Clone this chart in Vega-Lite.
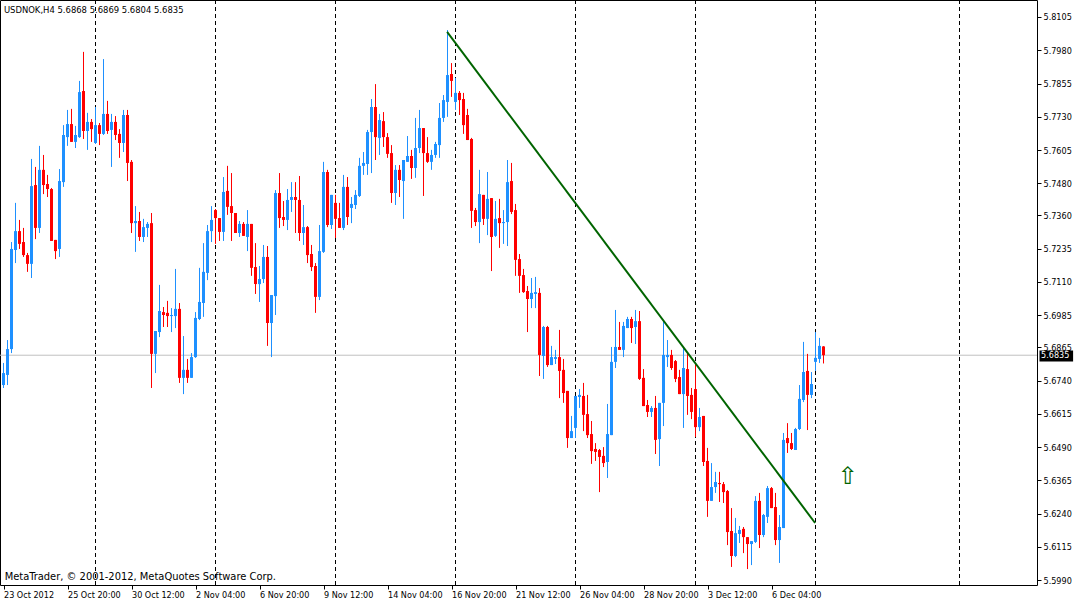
{
  "$schema": "https://vega.github.io/schema/vega-lite/v6.json",
  "width": 1037,
  "height": 585,
  "autosize": "none",
  "padding": {"left": 0, "top": 0, "right": 38, "bottom": 17},
  "background": "#ffffff",
  "config": {
    "view": {"stroke": "#000000", "strokeWidth": 1},
    "font": "DejaVu Sans Condensed, DejaVu Sans",
    "axis": {
      "labelOverlap": false, "labelFlush": false, "grid": false, "domain": false,
      "tickSize": 4, "tickColor": "#000000", "labelColor": "#000000",
      "labelFontSize": 9, "labelFont": "DejaVu Sans Condensed, DejaVu Sans"
    }
  },
  "datasets": {
    "candles": [
      {"bar":0,"open":5.6723,"high":5.6806,"low":5.6712,"close":5.6768},
      {"bar":1,"open":5.6761,"high":5.6892,"low":5.6723,"close":5.6858},
      {"bar":2,"open":5.6858,"high":5.7260,"low":5.6843,"close":5.7234},
      {"bar":3,"open":5.7230,"high":5.7407,"low":5.7181,"close":5.7301},
      {"bar":4,"open":5.7301,"high":5.7343,"low":5.7234,"close":5.7253},
      {"bar":5,"open":5.7260,"high":5.7313,"low":5.7204,"close":5.7211},
      {"bar":6,"open":5.7211,"high":5.7219,"low":5.7148,"close":5.7178},
      {"bar":7,"open":5.7178,"high":5.7572,"low":5.7125,"close":5.7470},
      {"bar":8,"open":5.7474,"high":5.7542,"low":5.7271,"close":5.7313},
      {"bar":9,"open":5.7313,"high":5.7621,"low":5.7294,"close":5.7531},
      {"bar":10,"open":5.7531,"high":5.7587,"low":5.7440,"close":5.7474},
      {"bar":11,"open":5.7478,"high":5.7512,"low":5.7429,"close":5.7459},
      {"bar":12,"open":5.7459,"high":5.7463,"low":5.7264,"close":5.7264},
      {"bar":13,"open":5.7268,"high":5.7268,"low":5.7196,"close":5.7226},
      {"bar":14,"open":5.7234,"high":5.7534,"low":5.7204,"close":5.7489},
      {"bar":15,"open":5.7485,"high":5.7699,"low":5.7467,"close":5.7662},
      {"bar":16,"open":5.7654,"high":5.7756,"low":5.7621,"close":5.7703},
      {"bar":17,"open":5.7703,"high":5.7760,"low":5.7636,"close":5.7636},
      {"bar":18,"open":5.7636,"high":5.7696,"low":5.7613,"close":5.7662},
      {"bar":19,"open":5.7654,"high":5.7865,"low":5.7651,"close":5.7823},
      {"bar":20,"open":5.7827,"high":5.7974,"low":5.7647,"close":5.7677},
      {"bar":21,"open":5.7677,"high":5.7745,"low":5.7606,"close":5.7711},
      {"bar":22,"open":5.7711,"high":5.7722,"low":5.7636,"close":5.7684},
      {"bar":23,"open":5.7632,"high":5.7767,"low":5.7628,"close":5.7699},
      {"bar":24,"open":5.7699,"high":5.7707,"low":5.7624,"close":5.7666},
      {"bar":25,"open":5.7666,"high":5.7947,"low":5.7662,"close":5.7741},
      {"bar":26,"open":5.7741,"high":5.7790,"low":5.7666,"close":5.7677},
      {"bar":27,"open":5.7681,"high":5.7741,"low":5.7542,"close":5.7711},
      {"bar":28,"open":5.7711,"high":5.7733,"low":5.7643,"close":5.7662},
      {"bar":29,"open":5.7666,"high":5.7684,"low":5.7576,"close":5.7632},
      {"bar":30,"open":5.7632,"high":5.7756,"low":5.7598,"close":5.7737},
      {"bar":31,"open":5.7737,"high":5.7756,"low":5.7489,"close":5.7557},
      {"bar":32,"open":5.7561,"high":5.7568,"low":5.7294,"close":5.7331},
      {"bar":33,"open":5.7331,"high":5.7395,"low":5.7223,"close":5.7339},
      {"bar":34,"open":5.7339,"high":5.7373,"low":5.7264,"close":5.7279},
      {"bar":35,"open":5.7279,"high":5.7347,"low":5.7260,"close":5.7316},
      {"bar":36,"open":5.7313,"high":5.7335,"low":5.7279,"close":5.7328},
      {"bar":37,"open":5.7331,"high":5.7369,"low":5.6712,"close":5.6840},
      {"bar":38,"open":5.6840,"high":5.6926,"low":5.6768,"close":5.6926},
      {"bar":39,"open":5.6922,"high":5.7099,"low":5.6903,"close":5.7001},
      {"bar":40,"open":5.6997,"high":5.7016,"low":5.6941,"close":5.6986},
      {"bar":41,"open":5.6994,"high":5.7039,"low":5.6941,"close":5.6982},
      {"bar":42,"open":5.6982,"high":5.7012,"low":5.6922,"close":5.6986},
      {"bar":43,"open":5.6982,"high":5.7159,"low":5.6937,"close":5.7009},
      {"bar":44,"open":5.7009,"high":5.7031,"low":5.6731,"close":5.6750},
      {"bar":45,"open":5.6750,"high":5.6907,"low":5.6689,"close":5.6780},
      {"bar":46,"open":5.6780,"high":5.6821,"low":5.6731,"close":5.6750},
      {"bar":47,"open":5.6750,"high":5.6843,"low":5.6750,"close":5.6828},
      {"bar":48,"open":5.6828,"high":5.6997,"low":5.6825,"close":5.6975},
      {"bar":49,"open":5.6971,"high":5.7163,"low":5.6967,"close":5.7035},
      {"bar":50,"open":5.7031,"high":5.7256,"low":5.6979,"close":5.7148},
      {"bar":51,"open":5.7144,"high":5.7324,"low":5.7117,"close":5.7301},
      {"bar":52,"open":5.7301,"high":5.7395,"low":5.7260,"close":5.7343},
      {"bar":53,"open":5.7380,"high":5.7384,"low":5.7253,"close":5.7350},
      {"bar":54,"open":5.7350,"high":5.7350,"low":5.7264,"close":5.7298},
      {"bar":55,"open":5.7298,"high":5.7504,"low":5.7264,"close":5.7448},
      {"bar":56,"open":5.7452,"high":5.7546,"low":5.7362,"close":5.7392},
      {"bar":57,"open":5.7395,"high":5.7519,"low":5.7264,"close":5.7369},
      {"bar":58,"open":5.7369,"high":5.7369,"low":5.7294,"close":5.7294},
      {"bar":59,"open":5.7294,"high":5.7339,"low":5.7279,"close":5.7328},
      {"bar":60,"open":5.7328,"high":5.7335,"low":5.7283,"close":5.7283},
      {"bar":61,"open":5.7279,"high":5.7380,"low":5.7226,"close":5.7328},
      {"bar":62,"open":5.7328,"high":5.7328,"low":5.7133,"close":5.7163},
      {"bar":63,"open":5.7166,"high":5.7256,"low":5.7065,"close":5.7102},
      {"bar":64,"open":5.7102,"high":5.7170,"low":5.7035,"close":5.7121},
      {"bar":65,"open":5.7121,"high":5.7249,"low":5.7106,"close":5.7204},
      {"bar":66,"open":5.7204,"high":5.7245,"low":5.6870,"close":5.6956},
      {"bar":67,"open":5.6956,"high":5.7061,"low":5.6828,"close":5.7061},
      {"bar":68,"open":5.7057,"high":5.7455,"low":5.6986,"close":5.7444},
      {"bar":69,"open":5.7444,"high":5.7519,"low":5.7313,"close":5.7350},
      {"bar":70,"open":5.7354,"high":5.7414,"low":5.7320,"close":5.7343},
      {"bar":71,"open":5.7343,"high":5.7459,"low":5.7305,"close":5.7418},
      {"bar":72,"open":5.7418,"high":5.7485,"low":5.7373,"close":5.7429},
      {"bar":73,"open":5.7429,"high":5.7485,"low":5.7294,"close":5.7418},
      {"bar":74,"open":5.7418,"high":5.7508,"low":5.7264,"close":5.7294},
      {"bar":75,"open":5.7294,"high":5.7399,"low":5.7249,"close":5.7316},
      {"bar":76,"open":5.7316,"high":5.7320,"low":5.7181,"close":5.7211},
      {"bar":77,"open":5.7215,"high":5.7249,"low":5.7151,"close":5.7166},
      {"bar":78,"open":5.7170,"high":5.7181,"low":5.6994,"close":5.7054},
      {"bar":79,"open":5.7054,"high":5.7324,"low":5.7042,"close":5.7226},
      {"bar":80,"open":5.7223,"high":5.7561,"low":5.7219,"close":5.7523},
      {"bar":81,"open":5.7523,"high":5.7531,"low":5.7316,"close":5.7324},
      {"bar":82,"open":5.7324,"high":5.7437,"low":5.7309,"close":5.7437},
      {"bar":83,"open":5.7407,"high":5.7437,"low":5.7275,"close":5.7347},
      {"bar":84,"open":5.7350,"high":5.7407,"low":5.7313,"close":5.7313},
      {"bar":85,"open":5.7313,"high":5.7512,"low":5.7305,"close":5.7467},
      {"bar":86,"open":5.7467,"high":5.7504,"low":5.7324,"close":5.7354},
      {"bar":87,"open":5.7388,"high":5.7429,"low":5.7331,"close":5.7403},
      {"bar":88,"open":5.7399,"high":5.7455,"low":5.7384,"close":5.7437},
      {"bar":89,"open":5.7433,"high":5.7576,"low":5.7429,"close":5.7546},
      {"bar":90,"open":5.7546,"high":5.7598,"low":5.7512,"close":5.7557},
      {"bar":91,"open":5.7553,"high":5.7681,"low":5.7512,"close":5.7673},
      {"bar":92,"open":5.7673,"high":5.7797,"low":5.7519,"close":5.7767},
      {"bar":93,"open":5.7767,"high":5.7853,"low":5.7568,"close":5.7654},
      {"bar":94,"open":5.7651,"high":5.7741,"low":5.7587,"close":5.7718},
      {"bar":95,"open":5.7714,"high":5.7748,"low":5.7617,"close":5.7654},
      {"bar":96,"open":5.7654,"high":5.7669,"low":5.7576,"close":5.7591},
      {"bar":97,"open":5.7594,"high":5.7624,"low":5.7407,"close":5.7444},
      {"bar":98,"open":5.7444,"high":5.7549,"low":5.7399,"close":5.7531},
      {"bar":99,"open":5.7531,"high":5.7549,"low":5.7429,"close":5.7493},
      {"bar":100,"open":5.7489,"high":5.7568,"low":5.7347,"close":5.7568},
      {"bar":101,"open":5.7561,"high":5.7658,"low":5.7561,"close":5.7583},
      {"bar":102,"open":5.7583,"high":5.7606,"low":5.7497,"close":5.7538},
      {"bar":103,"open":5.7538,"high":5.7726,"low":5.7501,"close":5.7613},
      {"bar":104,"open":5.7613,"high":5.7756,"low":5.7594,"close":5.7688},
      {"bar":105,"open":5.7688,"high":5.7688,"low":5.7433,"close":5.7594},
      {"bar":106,"open":5.7594,"high":5.7654,"low":5.7557,"close":5.7561},
      {"bar":107,"open":5.7561,"high":5.7606,"low":5.7531,"close":5.7587},
      {"bar":108,"open":5.7587,"high":5.7636,"low":5.7576,"close":5.7628},
      {"bar":109,"open":5.7624,"high":5.7782,"low":5.7576,"close":5.7726},
      {"bar":110,"open":5.7726,"high":5.7812,"low":5.7711,"close":5.7793},
      {"bar":111,"open":5.7786,"high":5.8056,"low":5.7730,"close":5.7887},
      {"bar":112,"open":5.7891,"high":5.7932,"low":5.7805,"close":5.7865},
      {"bar":113,"open":5.7786,"high":5.7876,"low":5.7756,"close":5.7820},
      {"bar":114,"open":5.7820,"high":5.7827,"low":5.7737,"close":5.7793},
      {"bar":115,"open":5.7797,"high":5.7820,"low":5.7666,"close":5.7699},
      {"bar":116,"open":5.7737,"high":5.7760,"low":5.7643,"close":5.7643},
      {"bar":117,"open":5.7647,"high":5.7651,"low":5.7313,"close":5.7377},
      {"bar":118,"open":5.7380,"high":5.7388,"low":5.7320,"close":5.7335},
      {"bar":119,"open":5.7335,"high":5.7531,"low":5.7256,"close":5.7440},
      {"bar":120,"open":5.7437,"high":5.7437,"low":5.7324,"close":5.7347},
      {"bar":121,"open":5.7347,"high":5.7523,"low":5.7286,"close":5.7422},
      {"bar":122,"open":5.7425,"high":5.7425,"low":5.7151,"close":5.7279},
      {"bar":123,"open":5.7283,"high":5.7414,"low":5.7279,"close":5.7347},
      {"bar":124,"open":5.7350,"high":5.7422,"low":5.7238,"close":5.7331},
      {"bar":125,"open":5.7331,"high":5.7380,"low":5.7253,"close":5.7335},
      {"bar":126,"open":5.7335,"high":5.7568,"low":5.7245,"close":5.7485},
      {"bar":127,"open":5.7489,"high":5.7557,"low":5.7365,"close":5.7373},
      {"bar":128,"open":5.7380,"high":5.7403,"low":5.7133,"close":5.7193},
      {"bar":129,"open":5.7196,"high":5.7215,"low":5.7069,"close":5.7133},
      {"bar":130,"open":5.7136,"high":5.7159,"low":5.7069,"close":5.7072},
      {"bar":131,"open":5.7076,"high":5.7095,"low":5.6922,"close":5.7046},
      {"bar":132,"open":5.7046,"high":5.7125,"low":5.7012,"close":5.7069},
      {"bar":133,"open":5.7065,"high":5.7129,"low":5.7012,"close":5.7072},
      {"bar":134,"open":5.7069,"high":5.7087,"low":5.6757,"close":5.6836},
      {"bar":135,"open":5.6832,"high":5.6945,"low":5.6746,"close":5.6941},
      {"bar":136,"open":5.6941,"high":5.6945,"low":5.6791,"close":5.6798},
      {"bar":137,"open":5.6798,"high":5.6870,"low":5.6798,"close":5.6828},
      {"bar":138,"open":5.6821,"high":5.6855,"low":5.6802,"close":5.6828},
      {"bar":139,"open":5.6828,"high":5.6930,"low":5.6674,"close":5.6776},
      {"bar":140,"open":5.6780,"high":5.6821,"low":5.6656,"close":5.6693},
      {"bar":141,"open":5.6701,"high":5.6701,"low":5.6487,"close":5.6524},
      {"bar":142,"open":5.6524,"high":5.6607,"low":5.6524,"close":5.6550},
      {"bar":143,"open":5.6562,"high":5.6682,"low":5.6524,"close":5.6682},
      {"bar":144,"open":5.6678,"high":5.6708,"low":5.6637,"close":5.6686},
      {"bar":145,"open":5.6682,"high":5.6731,"low":5.6550,"close":5.6611},
      {"bar":146,"open":5.6614,"high":5.6686,"low":5.6524,"close":5.6535},
      {"bar":147,"open":5.6539,"high":5.6588,"low":5.6427,"close":5.6475},
      {"bar":148,"open":5.6483,"high":5.6505,"low":5.6438,"close":5.6472},
      {"bar":149,"open":5.6479,"high":5.6483,"low":5.6321,"close":5.6453},
      {"bar":150,"open":5.6457,"high":5.6490,"low":5.6415,"close":5.6430},
      {"bar":151,"open":5.6434,"high":5.6652,"low":5.6374,"close":5.6539},
      {"bar":152,"open":5.6535,"high":5.6866,"low":5.6535,"close":5.6810},
      {"bar":153,"open":5.6810,"high":5.7005,"low":5.6787,"close":5.6866},
      {"bar":154,"open":5.6866,"high":5.6960,"low":5.6855,"close":5.6855},
      {"bar":155,"open":5.6855,"high":5.6960,"low":5.6828,"close":5.6945},
      {"bar":156,"open":5.6937,"high":5.6979,"low":5.6937,"close":5.6971},
      {"bar":157,"open":5.6971,"high":5.6979,"low":5.6881,"close":5.6937},
      {"bar":158,"open":5.6941,"high":5.7005,"low":5.6877,"close":5.6963},
      {"bar":159,"open":5.6963,"high":5.7001,"low":5.6742,"close":5.6746},
      {"bar":160,"open":5.6750,"high":5.6783,"low":5.6644,"close":5.6644},
      {"bar":161,"open":5.6648,"high":5.6667,"low":5.6603,"close":5.6622},
      {"bar":162,"open":5.6622,"high":5.6644,"low":5.6603,"close":5.6637},
      {"bar":163,"open":5.6637,"high":5.6682,"low":5.6464,"close":5.6517},
      {"bar":164,"open":5.6520,"high":5.6656,"low":5.6419,"close":5.6656},
      {"bar":165,"open":5.6656,"high":5.6967,"low":5.6569,"close":5.6836},
      {"bar":166,"open":5.6828,"high":5.6892,"low":5.6791,"close":5.6836},
      {"bar":167,"open":5.6836,"high":5.6855,"low":5.6780,"close":5.6787},
      {"bar":168,"open":5.6813,"high":5.6817,"low":5.6734,"close":5.6746},
      {"bar":169,"open":5.6753,"high":5.6780,"low":5.6689,"close":5.6689},
      {"bar":170,"open":5.6689,"high":5.6866,"low":5.6562,"close":5.6787},
      {"bar":171,"open":5.6783,"high":5.6847,"low":5.6611,"close":5.6682},
      {"bar":172,"open":5.6686,"high":5.6712,"low":5.6595,"close":5.6622},
      {"bar":173,"open":5.6708,"high":5.6806,"low":5.6528,"close":5.6565},
      {"bar":174,"open":5.6565,"high":5.6637,"low":5.6550,"close":5.6603},
      {"bar":175,"open":5.6607,"high":5.6607,"low":5.6419,"close":5.6434},
      {"bar":176,"open":5.6438,"high":5.6487,"low":5.6228,"close":5.6288},
      {"bar":177,"open":5.6288,"high":5.6430,"low":5.6288,"close":5.6340},
      {"bar":178,"open":5.6340,"high":5.6397,"low":5.6318,"close":5.6359},
      {"bar":179,"open":5.6355,"high":5.6397,"low":5.6284,"close":5.6351},
      {"bar":180,"open":5.6351,"high":5.6359,"low":5.6280,"close":5.6321},
      {"bar":181,"open":5.6325,"high":5.6329,"low":5.6122,"close":5.6171},
      {"bar":182,"open":5.6175,"high":5.6261,"low":5.6040,"close":5.6081},
      {"bar":183,"open":5.6081,"high":5.6224,"low":5.6077,"close":5.6167},
      {"bar":184,"open":5.6164,"high":5.6194,"low":5.6130,"close":5.6179},
      {"bar":185,"open":5.6183,"high":5.6190,"low":5.6092,"close":5.6152},
      {"bar":186,"open":5.6152,"high":5.6152,"low":5.6032,"close":5.6126},
      {"bar":187,"open":5.6126,"high":5.6137,"low":5.6047,"close":5.6137},
      {"bar":188,"open":5.6134,"high":5.6306,"low":5.6130,"close":5.6288},
      {"bar":189,"open":5.6288,"high":5.6318,"low":5.6111,"close":5.6160},
      {"bar":190,"open":5.6160,"high":5.6239,"low":5.6152,"close":5.6235},
      {"bar":191,"open":5.6228,"high":5.6344,"low":5.6205,"close":5.6336},
      {"bar":192,"open":5.6336,"high":5.6340,"low":5.6261,"close":5.6261},
      {"bar":193,"open":5.6265,"high":5.6318,"low":5.6122,"close":5.6141},
      {"bar":194,"open":5.6141,"high":5.6235,"low":5.6055,"close":5.6190},
      {"bar":195,"open":5.6186,"high":5.6543,"low":5.6186,"close":5.6517},
      {"bar":196,"open":5.6524,"high":5.6580,"low":5.6468,"close":5.6505},
      {"bar":197,"open":5.6505,"high":5.6543,"low":5.6479,"close":5.6483},
      {"bar":198,"open":5.6479,"high":5.6562,"low":5.6479,"close":5.6558},
      {"bar":199,"open":5.6558,"high":5.6723,"low":5.6554,"close":5.6671},
      {"bar":200,"open":5.6667,"high":5.6885,"low":5.6659,"close":5.6772},
      {"bar":201,"open":5.6776,"high":5.6840,"low":5.6554,"close":5.6686},
      {"bar":202,"open":5.6686,"high":5.6772,"low":5.6674,"close":5.6727},
      {"bar":203,"open":5.6810,"high":5.6922,"low":5.6776,"close":5.6825},
      {"bar":204,"open":5.6821,"high":5.6900,"low":5.6806,"close":5.6870},
      {"bar":205,"open":5.6868,"high":5.6869,"low":5.6804,"close":5.6835}
    ],
    "separators": [
      {"bar": 23}, {"bar": 53}, {"bar": 83}, {"bar": 113},
      {"bar": 143}, {"bar": 173}, {"bar": 203}, {"bar": 239}
    ],
    "trendline": [
      {"bar": 110.9, "price": 5.8049},
      {"bar": 202.9, "price": 5.6205}
    ]
  },
  "layer": [
    {
      "data": {"name": "separators"},
      "mark": {"type": "rule", "color": "#000000", "strokeWidth": 1, "strokeDash": [4, 3]},
      "encoding": {
        "x": {"field": "bar", "type": "quantitative", "scale": {"domain": [-0.875, 258.375], "nice": false, "zero": false, "padding": 0}}
      }
    },
    {
      "data": {"values": [{}]},
      "mark": {"type": "rule", "color": "#C0C0C0", "strokeWidth": 1},
      "encoding": {
        "y": {"datum": 5.6835, "type": "quantitative", "scale": {"domain": [5.59722, 5.81688], "nice": false, "zero": false, "padding": 0}}
      }
    },
    {
      "data": {"name": "candles"},
      "mark": {"type": "rule", "strokeWidth": 1},
      "encoding": {
        "x": {"field": "bar", "type": "quantitative", "scale": {"domain": [-0.875, 258.375], "nice": false, "zero": false, "padding": 0}},
        "y": {"field": "low", "type": "quantitative", "scale": {"domain": [5.59722, 5.81688], "nice": false, "zero": false, "padding": 0}},
        "y2": {"field": "high"},
        "color": {"condition": {"test": "datum.close >= datum.open", "value": "#1E90FF"}, "value": "#FF0000"}
      }
    },
    {
      "data": {"name": "candles"},
      "mark": {"type": "bar", "size": 3, "orient": "vertical"},
      "encoding": {
        "x": {
          "field": "bar", "type": "quantitative",
          "scale": {"domain": [-0.875, 258.375], "nice": false, "zero": false, "padding": 0},
          "axis": {
            "values": [0, 16, 32, 48, 64, 80, 96, 112, 128, 144, 160, 176, 192],
            "tickCount": 40,
            "labelExpr": "['23 Oct 2012','25 Oct 20:00','30 Oct 12:00','2 Nov 04:00','6 Nov 20:00','9 Nov 12:00','14 Nov 04:00','16 Nov 20:00','21 Nov 12:00','26 Nov 04:00','28 Nov 20:00','3 Dec 12:00','6 Dec 04:00'][datum.value / 16]",
            "title": null, "labelAlign": "left", "labelPadding": 1, "labelOverlap": false
          }
        },
        "y": {
          "field": "open", "type": "quantitative",
          "scale": {"domain": [5.59722, 5.81688], "nice": false, "zero": false, "padding": 0},
          "axis": {
            "orient": "right",
            "values": [5.599, 5.6115, 5.624, 5.6365, 5.649, 5.6615, 5.674, 5.6865, 5.6985, 5.711, 5.7235, 5.736, 5.748, 5.7605, 5.773, 5.7855, 5.798, 5.8105],
            "tickCount": 40,
            "format": ".4f",
            "title": null, "labelPadding": 2, "labelOverlap": false
          }
        },
        "y2": {"field": "close"},
        "color": {"condition": {"test": "datum.close >= datum.open", "value": "#1E90FF"}, "value": "#FF0000"}
      }
    },
    {
      "data": {"name": "trendline"},
      "mark": {"type": "line", "color": "#006400", "strokeWidth": 2},
      "encoding": {
        "x": {"field": "bar", "type": "quantitative", "scale": {"domain": [-0.875, 258.375], "nice": false, "zero": false, "padding": 0}},
        "y": {"field": "price", "type": "quantitative", "scale": {"domain": [5.59722, 5.81688], "nice": false, "zero": false, "padding": 0}}
      }
    },
    {
      "data": {"values": [{}]},
      "mark": {"type": "text", "color": "#006400", "fontSize": 24, "font": "DejaVu Sans", "align": "center", "baseline": "middle"},
      "encoding": {
        "x": {"datum": 211.1, "type": "quantitative", "scale": {"domain": [-0.875, 258.375], "nice": false, "zero": false, "padding": 0}},
        "y": {"datum": 5.6378, "type": "quantitative", "scale": {"domain": [5.59722, 5.81688], "nice": false, "zero": false, "padding": 0}},
        "text": {"value": "⇧"}
      }
    },
    {
      "data": {"values": [{}]},
      "mark": {"type": "text", "color": "#000000", "fontSize": 9.4, "align": "left", "baseline": "middle"},
      "encoding": {
        "x": {"datum": 0.1, "type": "quantitative", "scale": {"domain": [-0.875, 258.375], "nice": false, "zero": false, "padding": 0}},
        "y": {"datum": 5.8131, "type": "quantitative", "scale": {"domain": [5.59722, 5.81688], "nice": false, "zero": false, "padding": 0}},
        "text": {"value": "USDNOK,H4  5.6868 5.6869 5.6804 5.6835"}
      }
    },
    {
      "data": {"values": [{}]},
      "mark": {"type": "text", "color": "#000000", "fontSize": 11, "align": "left", "baseline": "middle"},
      "encoding": {
        "x": {"datum": 0.3, "type": "quantitative", "scale": {"domain": [-0.875, 258.375], "nice": false, "zero": false, "padding": 0}},
        "y": {"datum": 5.6002, "type": "quantitative", "scale": {"domain": [5.59722, 5.81688], "nice": false, "zero": false, "padding": 0}},
        "text": {"value": "MetaTrader, © 2001-2012, MetaQuotes Software Corp."}
      }
    },
    {
      "data": {"values": [{}]},
      "mark": {"type": "rect", "color": "#000000"},
      "encoding": {
        "x": {"datum": 259.0, "type": "quantitative", "scale": {"domain": [-0.875, 258.375], "nice": false, "zero": false, "padding": 0}},
        "x2": {"datum": 267.4},
        "y": {"datum": 5.6853, "type": "quantitative", "scale": {"domain": [5.59722, 5.81688], "nice": false, "zero": false, "padding": 0}},
        "y2": {"datum": 5.6811}
      }
    },
    {
      "data": {"values": [{}]},
      "mark": {"type": "text", "color": "#ffffff", "fontSize": 9, "align": "left", "baseline": "middle"},
      "encoding": {
        "x": {"datum": 259.4, "type": "quantitative", "scale": {"domain": [-0.875, 258.375], "nice": false, "zero": false, "padding": 0}},
        "y": {"datum": 5.6835, "type": "quantitative", "scale": {"domain": [5.59722, 5.81688], "nice": false, "zero": false, "padding": 0}},
        "text": {"value": "5.6835"}
      }
    }
  ]
}
